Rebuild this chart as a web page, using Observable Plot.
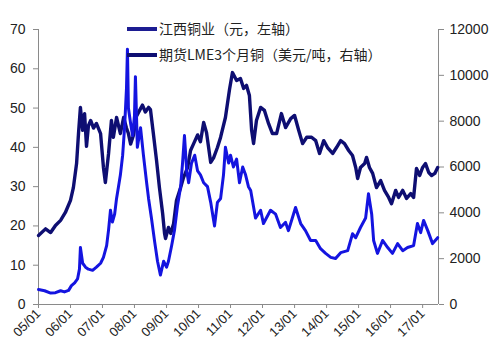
<!DOCTYPE html>
<html>
<head>
<meta charset="utf-8">
<script src="https://cdn.jsdelivr.net/npm/d3@7"></script>
<script src="https://cdn.jsdelivr.net/npm/@observablehq/plot@0.6"></script>
<style>
  body { margin: 0; background: #fff; }
</style>
</head>
<body>
<div id="chart"></div>
<script>
// Series labels
const seriesNames = ["江西铜业（元，左轴）", "期货LME3个月铜（美元/吨，右轴）"];

// LME 3-month copper (USD/t, right axis) — time in decimal years
const lmeTimes = [2005.00,2005.22,2005.38,2005.53,2005.69,2005.84,2006.00,2006.09,2006.19,2006.25,2006.31,2006.38,2006.44,2006.50,2006.56,2006.63,2006.72,2006.81,2006.94,2007.03,2007.09,2007.19,2007.28,2007.34,2007.44,2007.56,2007.66,2007.75,2007.81,2007.88,2007.97,2008.06,2008.16,2008.25,2008.34,2008.44,2008.50,2008.59,2008.69,2008.78,2008.88,2008.94,2008.97,2009.06,2009.13,2009.22,2009.31,2009.44,2009.53,2009.66,2009.75,2009.84,2009.97,2010.06,2010.16,2010.25,2010.38,2010.47,2010.59,2010.69,2010.84,2010.97,2011.06,2011.19,2011.31,2011.41,2011.50,2011.59,2011.66,2011.72,2011.81,2011.94,2012.06,2012.19,2012.31,2012.44,2012.59,2012.72,2012.88,2013.00,2013.13,2013.25,2013.38,2013.53,2013.66,2013.78,2013.91,2014.03,2014.19,2014.31,2014.44,2014.56,2014.69,2014.81,2014.91,2014.97,2015.06,2015.19,2015.25,2015.34,2015.44,2015.56,2015.69,2015.81,2015.94,2016.03,2016.16,2016.25,2016.38,2016.50,2016.63,2016.72,2016.81,2016.91,2017.00,2017.09,2017.19,2017.28,2017.38,2017.47];
const lmeValues = [3010,3300,3140,3450,3670,4015,4540,5100,6150,7460,8600,7600,8330,6900,7800,8030,7700,7900,7460,5980,5320,6590,8030,7300,8160,7460,8160,7700,7460,7000,7400,8200,8470,8700,8400,8600,8500,7460,6280,5100,3970,3100,2880,3360,3100,3530,4540,5100,5540,5980,6720,7000,7400,7100,7940,7500,6200,6400,6850,7300,8160,9400,10120,9775,9860,9430,9560,9120,7590,7020,8030,8600,8470,7890,7460,7460,8330,7720,8110,8250,7590,7020,7300,7300,7150,6590,7150,6850,6590,6850,7150,7020,6720,6500,5980,5500,5980,6150,6420,5980,5720,5100,5410,4980,4670,4400,4980,4670,4980,4630,4840,4670,5940,5630,5980,6150,5760,5630,5720,5980];

// Jiangxi Copper share price (CNY, left axis)
const jxTimes = [2005.00,2005.19,2005.38,2005.53,2005.69,2005.81,2005.94,2006.03,2006.13,2006.22,2006.28,2006.31,2006.38,2006.47,2006.56,2006.69,2006.81,2006.94,2007.03,2007.13,2007.19,2007.25,2007.31,2007.38,2007.44,2007.50,2007.56,2007.63,2007.69,2007.75,2007.78,2007.81,2007.88,2007.94,2008.00,2008.03,2008.09,2008.19,2008.28,2008.38,2008.44,2008.53,2008.63,2008.72,2008.81,2008.91,2009.00,2009.06,2009.16,2009.25,2009.34,2009.44,2009.50,2009.56,2009.63,2009.69,2009.78,2009.88,2009.97,2010.06,2010.16,2010.28,2010.38,2010.44,2010.50,2010.59,2010.69,2010.78,2010.84,2010.94,2011.00,2011.09,2011.19,2011.28,2011.38,2011.47,2011.56,2011.63,2011.78,2011.94,2012.03,2012.25,2012.41,2012.56,2012.72,2012.81,2013.03,2013.19,2013.34,2013.50,2013.66,2013.81,2013.97,2014.13,2014.28,2014.44,2014.66,2014.81,2014.91,2015.06,2015.22,2015.31,2015.41,2015.47,2015.59,2015.75,2015.91,2016.06,2016.22,2016.38,2016.53,2016.72,2016.84,2016.94,2017.03,2017.16,2017.31,2017.47];
const jxValues = [3.8,3.5,2.9,3.0,3.5,3.2,3.6,4.8,5.5,6.5,9,14.5,10.5,9.5,9,8.7,9.5,10.5,12,15,19,24,21,23,27,30,33,38,45,55,65,50,46,43,48,58,40,45,38,31,27,22,16,11,7.5,11,9.5,11,15,19,25,30,36,43,34,31,36,38,34,33,31,30,26,23,20,26,27,33,40,36,38,35,37,31,35,33,30,29,22,24,20.6,24,23,19.6,20.9,18.8,24.7,20.6,18.8,16.3,16.3,14.2,13,12,11.7,13.2,13.7,18,17,19.6,22,28.2,23,16.3,13,16.3,14.5,13,15.5,13.7,14.5,15,20.6,18.3,21.4,18.8,15.5,17];

// Axis ticks
const leftTicks = [0,10,20,30,40,50,60,70];
const rightTicks = [0,2000,4000,6000,8000,10000,12000];
const yearTicks = ["2005","2006","2007","2008","2009","2010","2011","2012","2013","2014","2015","2016","2017"];

const leftMax = 70, rightMax = 12000;
const toDate = t => { const y = Math.floor(t); return new Date(Date.UTC(y,0,1) + (t - y) * 365.25 * 864e5); };
const lme = lmeTimes.map((t,i) => ({date: toDate(t), v: lmeValues[i] * leftMax / rightMax}));
const jx = jxTimes.map((t,i) => ({date: toDate(t), v: jxValues[i]}));
const xTicks = yearTicks.map(y => new Date(Date.UTC(+y,0,1)));
const x0 = new Date(Date.UTC(2005,0,1)), x1 = new Date(Date.UTC(2017,6,1));

const axisColor = "#8a8a8a";
const blue = "#1414e0", navy = "#0e0e72";

const plot = Plot.plot({
  width: 496, height: 355,
  marginLeft: 38, marginRight: 58, marginTop: 29, marginBottom: 51,
  style: {fontSize: "14px", fontFamily: "'Liberation Sans', Arial, sans-serif", color: "#222", background: "#fff"},
  x: {type: "utc", domain: [x0, x1]},
  y: {domain: [0, leftMax]},
  marks: [
    Plot.ruleY([0], {stroke: axisColor}),
    Plot.ruleX([x0, x1], {stroke: axisColor}),
    Plot.axisY({anchor: "left", ticks: leftTicks, tickSize: 5, tickPadding: 8, label: null, stroke: axisColor, fontSize: 14}),
    Plot.axisY({anchor: "right", ticks: rightTicks.map(v => v * leftMax / rightMax), tickFormat: v => String(Math.round(v * rightMax / leftMax)), tickSize: 5, tickPadding: 6, label: null, stroke: axisColor, fontSize: 14}),
    Plot.axisX({ticks: xTicks, tickFormat: d3.utcFormat("%y/%m"), tickRotate: -45, tickSize: 4, tickPadding: 3, label: null, stroke: axisColor, fontSize: 13}),
    Plot.line(lme, {x: "date", y: "v", stroke: navy, strokeWidth: 3.4, strokeLinejoin: "round"}),
    Plot.line(jx, {x: "date", y: "v", stroke: blue, strokeWidth: 3, strokeLinejoin: "round"})
  ]
});
document.getElementById("chart").appendChild(plot);

// Legend
const svg = d3.select(plot);
const leg = svg.append("g").attr("font-family", "'Noto Sans CJK SC', sans-serif").attr("font-size", 14).attr("fill", "#222").attr("text-anchor", "start");
[[29, "#1c1c92"], [55, navy]].forEach(([y, c], i) => {
  leg.append("line").attr("x1", 127).attr("x2", 157).attr("y1", y).attr("y2", y).attr("stroke", c).attr("stroke-width", 4);
  leg.append("text").attr("x", 159).attr("y", y).attr("dy", "0.36em").text(seriesNames[i]);
});
</script>
</body>
</html>
